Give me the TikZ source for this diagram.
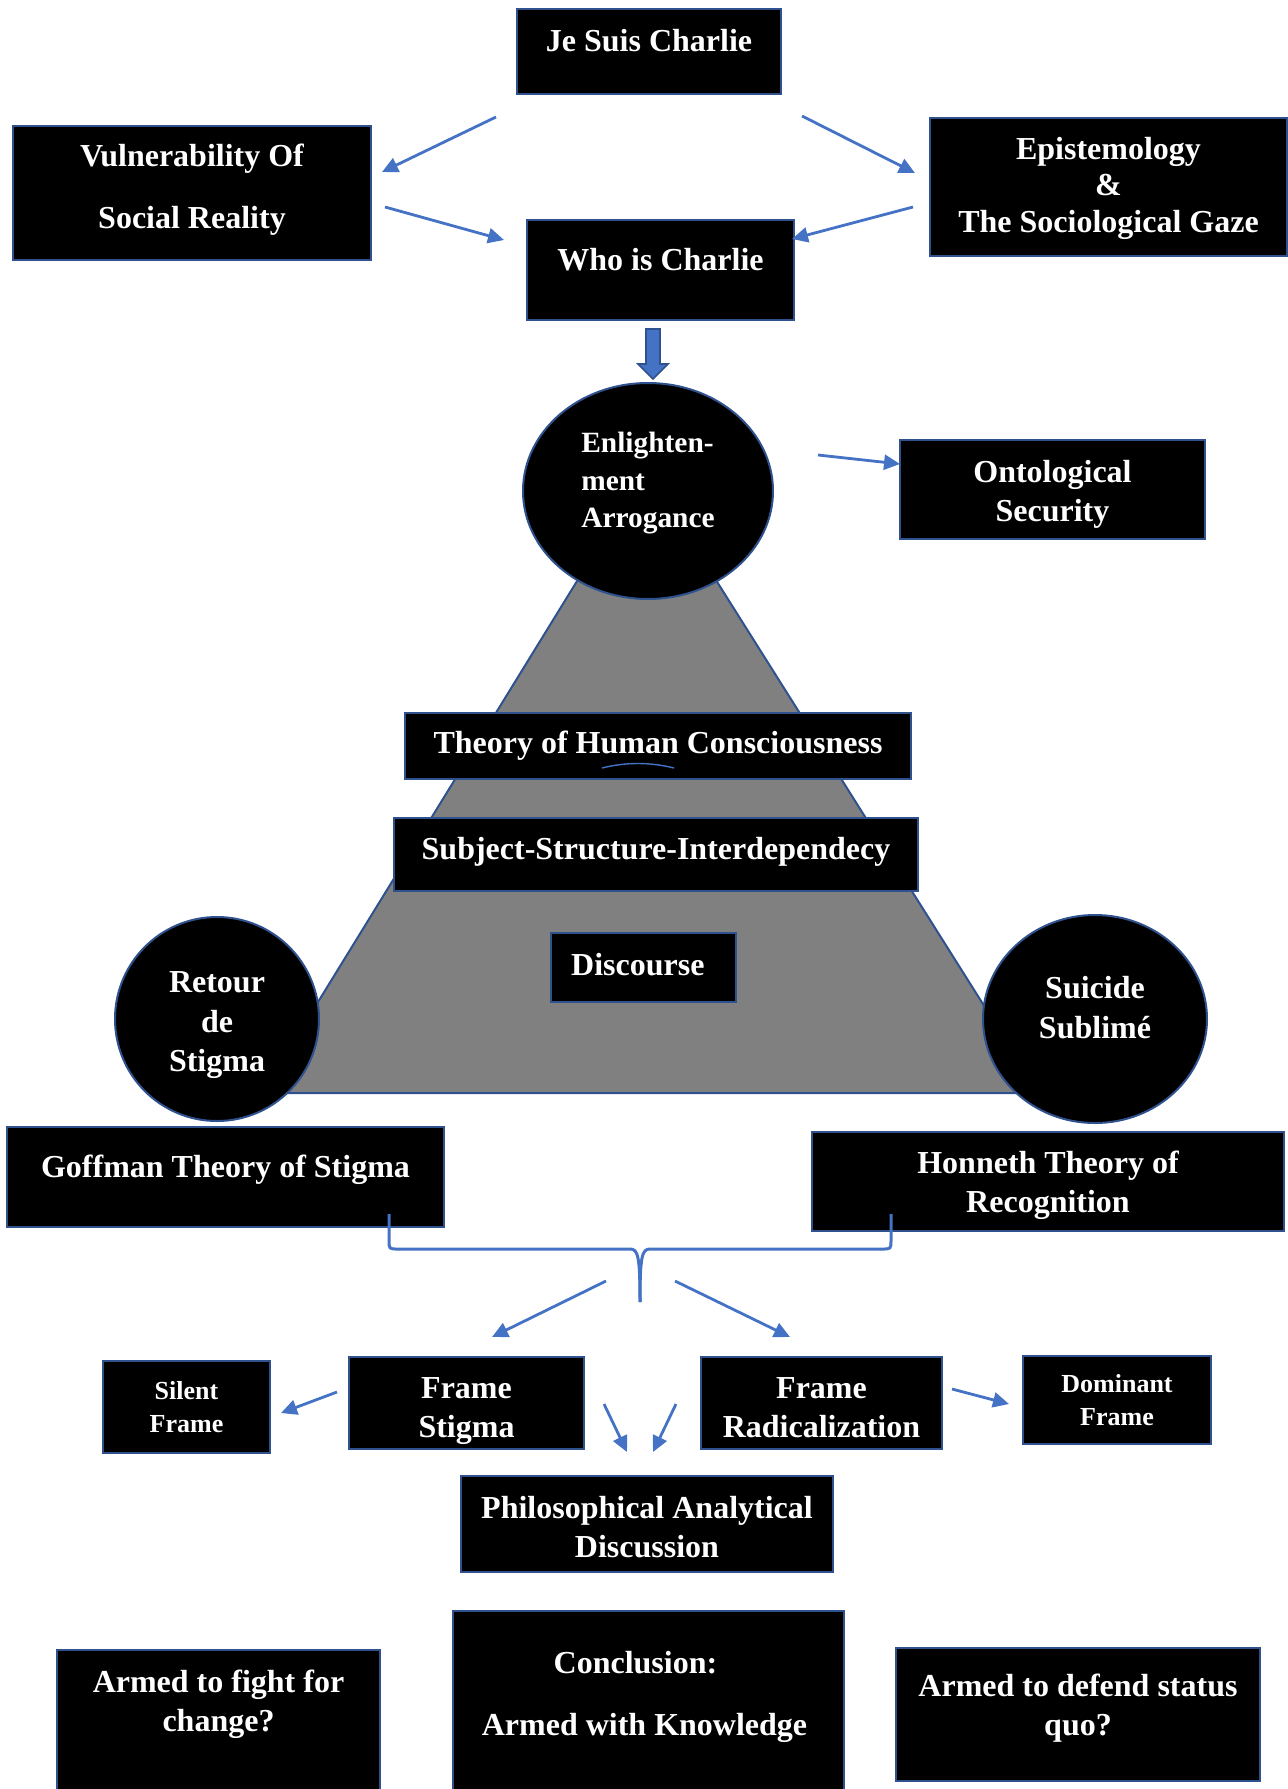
\documentclass[tikz,border=0pt]{standalone}
\usepackage{fontspec}
\setmainfont{Liberation Serif}
\usepackage{xcolor}
\usepackage{tikz}
\usetikzlibrary{arrows.meta,positioning,calc,shapes.geometric}
\definecolor{boxblue}{HTML}{2F528F}
\definecolor{arrblue}{HTML}{4472C4}

\begin{document}
\begin{tikzpicture}[
  x=0.5pt,y=-0.5pt,
  box/.style={draw=boxblue,line width=1pt,fill=black,text=white,align=center,
              font=\fontsize{16pt}{19.5pt}\selectfont\bfseries},
  small/.style={box,font=\fontsize{13pt}{16.5pt}\selectfont\bfseries},
  blob/.style={box,ellipse,inner sep=0pt},
  sz/.style 2 args={minimum width=#1,minimum height=#2},
  lift/.style 2 args={text height=#1,text depth=#2},
  arr/.style={-{Triangle[length=8pt,width=7.5pt]},line width=1.4pt,arrblue},
  blk/.style={draw=boxblue,fill=arrblue,line width=0.8pt},
  tri/.style={draw=boxblue,line width=1pt,fill=gray}
]
\useasboundingbox (0,0) rectangle (1287,1789);

\coordinate (apex) at (646,469);
\coordinate (bl) at (262,1093);
\coordinate (br) at (1039,1093);
\draw[tri] (apex) -- (bl) -- (br) -- cycle;

\node[box,sz={132pt}{42.5pt},lift={12pt}{12pt}] (jsc) at (649,51.5) {Je Suis Charlie};
\node[box,sz={179pt}{67pt},lift={36pt}{1pt}] (vul) at (192,193) {Vulnerability Of\\[11.5pt]Social Reality};
\node[box,sz={178.5pt}{69pt},lift={46pt}{0.7pt},font=\fontsize{16pt}{18.25pt}\selectfont\bfseries] (epi) at (1108.5,187) {Epistemology\\\&\\The Sociological Gaze};
\node[box,sz={133.5pt}{50pt},lift={12pt}{12pt}] (who) at (660.5,270) {Who is Charlie};
\node[blob,minimum width=125pt,minimum height=108pt,align=left,lift={38pt}{1.2pt},
      font=\fontsize{14.7pt}{18.8pt}\selectfont\bfseries] (enl) at (648,491) {Enlighten-\\ment\\Arrogance};
\node[box,sz={152.5pt}{49.5pt},lift={33pt}{1.4pt}] (ont) at (1052.5,489.5) {Ontological\\Security};
\node[box,sz={253pt}{33pt}] (thc) at (658,746) {Theory of Human Consciousness};
\node[box,sz={262pt}{36.5pt},lift={12pt}{7.5pt}] (ssi) at (656,854.5) {Subject-Structure-Interdependecy};
\node[box,sz={92.5pt}{34.5pt},lift={12pt}{4.4pt}] (dis) at (643.5,967.5) {Discourse\hspace*{5.7pt}};
\node[blob,minimum size=102pt,lift={54pt}{1.3pt},font=\fontsize{16pt}{19.7pt}\selectfont\bfseries] (ret) at (217,1019) {Retour\\de\\Stigma};
\node[blob,minimum width=112pt,minimum height=104pt,lift={32pt}{12.5pt},
      font=\fontsize{16pt}{20pt}\selectfont\bfseries] (sui) at (1095,1019) {Suicide\\Sublimé};
\node[box,sz={218.5pt}{50pt},lift={12pt}{12pt}] (gof) at (225.5,1177) {Goffman Theory of Stigma};
\node[box,sz={236pt}{49.5pt},lift={31.6pt}{1pt}] (hon) at (1048,1181.5) {Honneth Theory of\\Recognition};
\node[small,sz={83.5pt}{46pt}] (sil) at (186.5,1407) {Silent\\Frame};
\node[box,sz={117.5pt}{46pt},lift={35pt}{0.5pt}] (fst) at (466.5,1403) {Frame\\Stigma};
\node[box,sz={120.5pt}{46pt},lift={35pt}{0.5pt}] (frd) at (821.5,1403) {Frame\\Radicalization};
\node[small,sz={94pt}{44pt}] (dom) at (1117,1400) {Dominant\\Frame};
\node[box,sz={186pt}{48pt},lift={34pt}{0.5pt}] (phi) at (647,1524) {Philosophical Analytical\\Discussion};
\node[box,sz={161.5pt}{90pt},lift={30pt}{38.5pt}] (fig) at (218.5,1740) {Armed to fight for\\change?};
\node[box,sz={195.5pt}{109.5pt},lift={44pt}{29.5pt}] (con) at (648.5,1720.5) {Conclusion:\hspace*{13pt}\\[11.5pt]Armed with Knowledge\hspace*{4pt}};
\node[box,sz={182pt}{66.5pt},lift={33pt}{12.5pt}] (def) at (1078,1714.5) {Armed to defend status\\quo?};

\coordinate (j1) at (496,117);  \coordinate (v1) at (382,172);
\coordinate (j2) at (802,116);  \coordinate (e1) at (915,173);
\coordinate (v2) at (385,207);  \coordinate (w1) at (504,240);
\coordinate (e2) at (913,207);  \coordinate (w2) at (792,239);
\coordinate (n1) at (818,455);  \coordinate (o1) at (900,464);
\coordinate (b1) at (606,1281); \coordinate (s1) at (492,1337);
\coordinate (b2) at (675,1281); \coordinate (r1) at (790,1337);
\coordinate (s2) at (337,1392); \coordinate (l1) at (281,1413);
\coordinate (s3) at (604,1404); \coordinate (p1) at (627,1452);
\coordinate (r2) at (676,1404); \coordinate (p2) at (653,1452);
\coordinate (r3) at (952,1389); \coordinate (d1) at (1009,1404);
\coordinate (dn) at (653,379);

\draw[arr] (j1) -- (v1);
\draw[arr] (j2) -- (e1);
\draw[arr] (v2) -- (w1);
\draw[arr] (e2) -- (w2);
\draw[arr] (n1) -- (o1);
\draw[arr] (b1) -- (s1);
\draw[arr] (b2) -- (r1);
\draw[arr] (s2) -- (l1);
\draw[arr] (s3) -- (p1);
\draw[arr] (r2) -- (p2);
\draw[arr] (r3) -- (d1);
\draw[blk] (dn) -- ++(-15,-15) -- ++(8,0) -- ++(0,-35) -- ++(14,0) -- ++(0,35) -- ++(8,0) -- cycle;

\draw[arrblue,line width=1.5pt] (389,1214) -- (389,1240) .. controls (389,1249) .. (398,1249)
  -- (630,1249) .. controls (638,1249) and (640,1256) .. (640,1302);
\draw[arrblue,line width=1.5pt] (891,1214) -- (891,1240) .. controls (891,1249) .. (882,1249)
  -- (650,1249) .. controls (642,1249) and (640,1256) .. (640,1302);
\draw[arrblue,line width=0.7pt] (602,768) .. controls (626,762) and (650,762) .. (674,768);
\end{tikzpicture}
\end{document}
